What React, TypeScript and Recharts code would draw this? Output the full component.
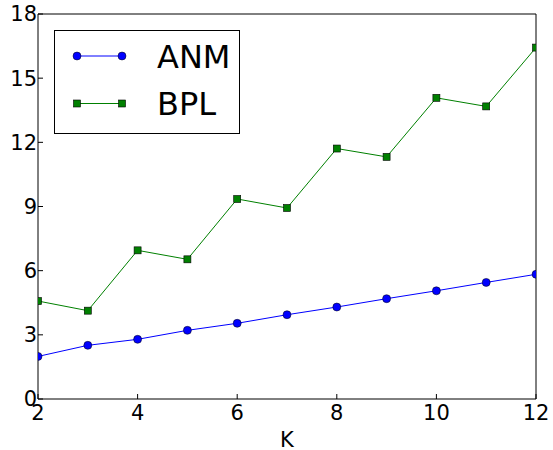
import { LineChart, Line, XAxis, YAxis, Legend } from "recharts";

const kValues = [2, 3, 4, 5, 6, 7, 8, 9, 10, 11, 12];
const anmValues = [1.99, 2.51, 2.79, 3.21, 3.54, 3.94, 4.3, 4.69, 5.06, 5.45, 5.83];
const bplValues = [4.58, 4.13, 6.95, 6.53, 9.35, 8.93, 11.71, 11.32, 14.08, 13.68, 16.43];
const xTicks = [2, 4, 6, 8, 10, 12];
const yTicks = [0, 3, 6, 9, 12, 15, 18];

const data = kValues.map((k, i) => ({ k, anm: anmValues[i], bpl: bplValues[i] }));

const FONT = "DejaVu Sans";
const tickStyle = { fontFamily: FONT, fontSize: 21, fill: "#000" };

const SquareDot = (props: any) => {
  const { cx, cy } = props;
  if (cx == null || cy == null) return null;
  return (
    <rect x={cx - 3.5} y={cy - 3.5} width={7} height={7} fill="#008000" stroke="#000" strokeWidth={0.6} />
  );
};

const LegendBox = () => (
  <div
    style={{
      width: 186,
      height: 104,
      border: "1px solid #000",
      boxSizing: "border-box",
      background: "#fff",
    }}
  >
    <svg width={184} height={102} style={{ display: "block" }}>
      <line x1={22} y1={25} x2={67} y2={25} stroke="#0000ff" strokeWidth={1} />
      <circle cx={22} cy={25} r={4} fill="#0000ff" stroke="#000" strokeWidth={0.5} />
      <circle cx={67} cy={25} r={4} fill="#0000ff" stroke="#000" strokeWidth={0.5} />
      <text x={102} y={37} fontFamily={FONT} fontSize={32} fill="#000">ANM</text>
      <line x1={22} y1={72.5} x2={67} y2={72.5} stroke="#008000" strokeWidth={1} />
      <rect x={18.5} y={69} width={7} height={7} fill="#008000" stroke="#000" strokeWidth={0.6} />
      <rect x={63.5} y={69} width={7} height={7} fill="#008000" stroke="#000" strokeWidth={0.6} />
      <text x={102} y={84} fontFamily={FONT} fontSize={32} fill="#000">BPL</text>
    </svg>
  </div>
);

export default function App() {
  return (
    <div style={{ position: "absolute", left: 0, top: 0, background: "#fff" }}>
      <LineChart
        width={553}
        height={450}
        data={data}
        margin={{ top: 13, right: 16, left: 0, bottom: 0 }}
      >
        <XAxis
          dataKey="k"
          type="number"
          domain={[2, 12]}
          ticks={xTicks}
          allowDataOverflow
          height={51}
          stroke="#000"
          tickSize={-5}
          tickMargin={11}
          tick={tickStyle}
          label={{ value: "K", position: "insideBottom", offset: 3, style: { ...tickStyle } }}
        />
        <XAxis
          xAxisId="top"
          dataKey="k"
          type="number"
          domain={[2, 12]}
          ticks={xTicks}
          orientation="top"
          height={1}
          stroke="#000"
          tickSize={-5}
          tick={false}
        />
        <YAxis
          type="number"
          domain={[0, 18]}
          ticks={yTicks}
          width={38}
          stroke="#000"
          tickSize={-5}
          tickMargin={6}
          tick={tickStyle}
        />
        <YAxis
          yAxisId="right"
          type="number"
          domain={[0, 18]}
          ticks={yTicks}
          orientation="right"
          width={1}
          stroke="#000"
          tickSize={-5}
          tick={false}
        />
        <Legend
          layout="vertical"
          align="center"
          verticalAlign="middle"
          content={() => <LegendBox />}
          wrapperStyle={{ left: 54, top: 30, width: 186, height: 104 }}
        />
        <Line
          dataKey="anm"
          name="ANM"
          stroke="#0000ff"
          strokeWidth={1}
          dot={{ r: 4, fill: "#0000ff", stroke: "#000", strokeWidth: 0.5 }}
          isAnimationActive={false}
        />
        <Line
          dataKey="bpl"
          name="BPL"
          stroke="#008000"
          strokeWidth={1}
          dot={<SquareDot />}
          isAnimationActive={false}
        />
      </LineChart>
    </div>
  );
}
